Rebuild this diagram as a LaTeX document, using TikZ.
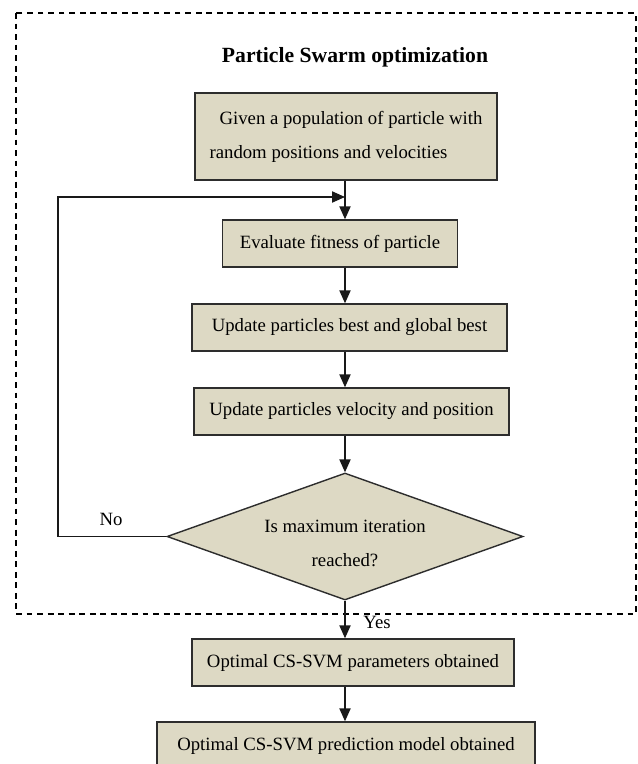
\documentclass[tikz,border=0pt]{standalone}
\usepackage{fontspec}
\setmainfont{Liberation Serif}
\usetikzlibrary{arrows.meta,shapes.geometric,positioning}
\definecolor{boxfill}{RGB}{221,217,196}
\definecolor{boxline}{RGB}{45,45,45}

\tikzset{
  stepbox/.style={draw=boxline, fill=boxfill, line width=1.2pt, inner sep=0pt,
    minimum height=1.41cm, font=\fontsize{16}{29}\selectfont},
  flow/.style={-{Triangle[length=11pt,width=9.5pt]}, line width=1.2pt, draw=black!90},
  frame/.style={dash pattern=on 5pt off 4pt, line width=0.9pt},
  tag/.style={font=\fontsize{16}{19}\selectfont, inner sep=0pt},
}

\begin{document}
\begin{tikzpicture}[x=0.03cm,y=-0.03cm]
        \clip (0,0) rectangle (637,764);
        \draw[frame] (16,13) rectangle (636,614);
        \node[font=\fontsize{18.5}{22}\selectfont\bfseries] (title) at (355,57) {Particle Swarm optimization};
        \node[stepbox, minimum width=9.06cm, minimum height=2.61cm, align=left] (given) at (346,136.5)
             {\hspace*{0.3cm}Given a population of particle with\\random positions and velocities};
        \node[stepbox, minimum width=7.05cm] (eval) at (340,243.5) {Evaluate fitness of particle};
        \node[stepbox, minimum width=9.45cm] (best) at (349.5,327.5) {Update particles best and global best};
        \node[stepbox, minimum width=9.45cm] (move) at (351.5,411.5) {Update particles velocity and position};
        \node[stepbox, diamond, aspect=2.8, minimum width=10.68cm, minimum height=3.81cm, align=center] (check) at (345,536.5)
             {\rule{0pt}{22pt}Is maximum iteration\\reached?};
        \node[stepbox, minimum width=9.66cm] (params) at (353,662.5) {Optimal CS-SVM parameters obtained};
        \node[stepbox, minimum width=11.34cm, minimum height=1.44cm] (model) at (346,746) {Optimal CS-SVM prediction model obtained};
        \coordinate (back) at (58,197);
        \draw[flow] (given.south -| check) -- (eval.north -| check);
        \draw[flow] (eval.south -| check) -- (best.north -| check);
        \draw[flow] (best.south -| check) -- (move.north -| check);
        \draw[flow] (move.south -| check) -- (check.north);
        \draw[flow] (check.south) -- (params.north -| check);
        \draw[flow] (params.south -| check) -- (model.north -| check);
        \draw[flow] (check.west) -| (back) -- (back -| check);
        \node[tag] (no) at (111,519) {No};
        \node[tag] (yes) at (377,622) {Yes};
\end{tikzpicture}
\end{document}
